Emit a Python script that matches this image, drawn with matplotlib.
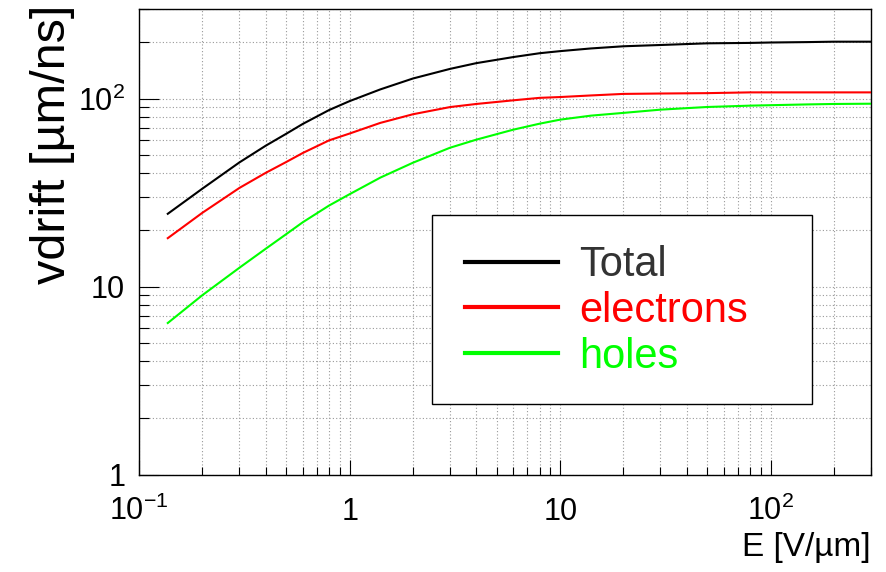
import matplotlib
matplotlib.use("Agg")
import matplotlib.pyplot as plt
from matplotlib.lines import Line2D
from matplotlib.patches import Rectangle
from matplotlib.ticker import FixedLocator, FixedFormatter, LogLocator, NullFormatter

plt.rcParams['font.family'] = ['Liberation Sans', 'DejaVu Sans']
plt.rcParams['mathtext.fontset'] = 'custom'
plt.rcParams['mathtext.rm'] = 'Liberation Sans'
plt.rcParams['mathtext.it'] = 'Liberation Sans:italic'

#---------------------------------------------------
# drift velocity vs field
E = [0.137, 0.2, 0.3, 0.4, 0.5, 0.6, 0.8, 1.0, 1.4, 2, 3, 4, 6, 8,
     10, 14, 20, 30, 50, 80, 100, 150, 200, 300]
v_total = [24.4, 33.2, 45.8, 56.2, 65, 73.4, 87, 97, 112, 128, 144, 154.5, 166.5, 174.5,
           179, 185, 190, 193, 197, 198, 199, 200, 201, 201]
v_electrons = [18.1, 24.7, 33.5, 40.3, 46, 51.4, 60, 65.2, 74.3, 82.6, 90.2, 93.7, 98, 101,
               102, 104, 106, 106.5, 107, 108, 108, 108, 108, 108]
v_holes = [6.4, 9.0, 12.6, 15.9, 19, 22, 27, 31, 38, 45.6, 54.8, 60.5, 68.4, 73.6,
           77.3, 81.2, 84, 87.4, 90.3, 91.8, 92.3, 93.2, 93.7, 94]

labels = ["Total", "electrons", "holes"]
line_colors = ["black", "#ff0000", "#00ff00"]
text_colors = ["#333333", "#ff0000", "#00ff00"]

xticks = [0.1, 1, 10, 100]
xticklabels = [r'$10^{-1}$', r'$1$', r'$10$', r'$10^{2}$']
yticks = [1, 10, 100]
yticklabels = [r'$1$', r'$10$', r'$10^{2}$']

fig = plt.figure(figsize=(8.87, 5.72), dpi=100)
ax = fig.add_axes([139/887, 1 - 474.5/572, (871 - 139)/887, (474.5 - 9)/572])

for v, c in zip([v_total, v_electrons, v_holes], line_colors):
  ax.plot(E, v, color=c, lw=1.5, zorder=3)

ax.set_xscale('log')
ax.set_yscale('log')
ax.set_xlim(0.1, 300)
ax.set_ylim(1, 300)

ax.xaxis.set_major_locator(FixedLocator(xticks))
ax.xaxis.set_major_formatter(FixedFormatter(xticklabels))
ax.yaxis.set_major_locator(FixedLocator(yticks))
ax.yaxis.set_major_formatter(FixedFormatter(yticklabels))
for axis in (ax.xaxis, ax.yaxis):
  axis.set_minor_locator(LogLocator(base=10, subs=range(2, 10), numticks=20))
  axis.set_minor_formatter(NullFormatter())

ax.grid(True, which='both', color='#999999', linestyle=(0, (1, 2)), linewidth=0.8)
ax.tick_params(which='both', direction='in', top=False, right=False, width=0.8,
               labelsize=22)
ax.tick_params(axis='x', which='major', length=10.5, pad=33)
ax.tick_params(axis='x', which='minor', length=5.8)
ax.tick_params(axis='y', which='major', length=14.4, pad=10)
ax.tick_params(axis='y', which='minor', length=7.2)
for lab in ax.get_xticklabels():
  lab.set_va('baseline')
for s in ax.spines.values():
  s.set_linewidth(1.0)

ax.set_ylabel('vdrift [µm/ns]', fontsize=35, loc='top')
ax.yaxis.set_label_coords(-0.087, 1.01)
ax.set_xlabel('E [V/µm]', fontsize=24, loc='right')
ax.xaxis.set_label_coords(1.0, -0.1235)

# legend box, ROOT style
ax.add_patch(Rectangle((0.400, 0.151), 0.519, 0.406, transform=ax.transAxes,
                       facecolor='white', edgecolor='black', lw=1.0, zorder=5))
handles = [Line2D([], [], color=c, lw=3) for c in line_colors]
leg = ax.legend(handles, labels, loc='upper left', bbox_to_anchor=(0.445, 0.4925),
                frameon=False, fontsize=30, handlelength=2.25, handletextpad=0.5,
                labelspacing=0.14, borderpad=0, borderaxespad=0)
leg.set_zorder(6)
for t, c in zip(leg.get_texts(), text_colors):
  t.set_color(c)

fig.savefig("out.png", dpi=100)
plt.close()
